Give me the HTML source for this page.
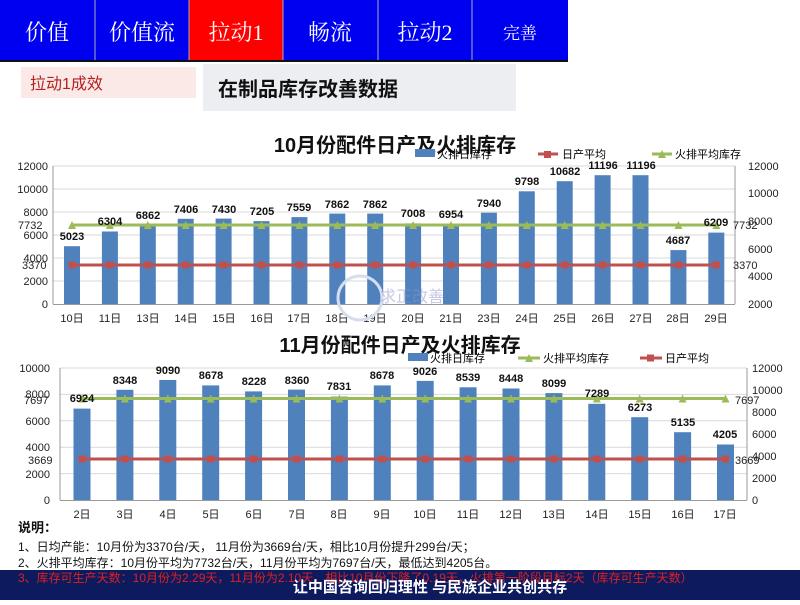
<!DOCTYPE html>
<html><head><meta charset="utf-8"><style>
body{margin:0;width:800px;height:600px;overflow:hidden;background:#fff;font-family:"Liberation Sans","Noto Sans CJK SC",sans-serif}
</style></head><body>
<svg width="800" height="600" viewBox="0 0 800 600" xmlns="http://www.w3.org/2000/svg" font-family="Liberation Sans, Noto Sans CJK SC, sans-serif">
<rect x="0" y="0" width="568" height="61" fill="#0000f0"/>
<rect x="189" y="0" width="94" height="61" fill="#ff0000"/>
<rect x="0" y="60" width="568" height="2" fill="#111"/>
<g stroke="#aab" stroke-width="1"><line x1="95" y1="0" x2="95" y2="60"/><line x1="189" y1="0" x2="189" y2="60"/><line x1="283" y1="0" x2="283" y2="60"/><line x1="378" y1="0" x2="378" y2="60"/><line x1="472" y1="0" x2="472" y2="60"/></g>
<g fill="#fff" font-family="Liberation Serif, Noto Serif CJK SC, serif" font-size="22" text-anchor="middle">
<text x="47" y="40">价值</text><text x="142" y="40">价值流</text><text x="236" y="40">拉动1</text><text x="330" y="40">畅流</text><text x="425" y="40">拉动2</text><text x="520" y="39" font-size="17">完善</text></g>
<rect x="21" y="67" width="175" height="31" fill="#fbe9e7"/>
<text x="30" y="89" font-size="16" fill="#b22222">拉动1成效</text>
<rect x="203" y="64" width="313" height="47" fill="#eceef1"/>
<text x="218" y="96" font-size="20" font-weight="bold" fill="#111">在制品库存改善数据</text>

<text x="395" y="152" font-size="20" font-weight="bold" text-anchor="middle" fill="#111">10月份配件日产及火排库存</text>
<rect x="415" y="149" width="20" height="8" fill="#4f81bd"/><text x="437" y="158" font-size="11">火排日库存</text>
<line x1="538" y1="154" x2="558" y2="154" stroke="#c0504d" stroke-width="3"/><rect x="544" y="151" width="7" height="7" fill="#c0504d"/><text x="562" y="158" font-size="11">日产平均</text>
<line x1="652" y1="154" x2="672" y2="154" stroke="#9bbb59" stroke-width="3"/><path d="M658,158 L662,150 L666,158Z" fill="#9bbb59"/><text x="675" y="158" font-size="11">火排平均库存</text>
<g stroke="#d9d9d9" stroke-width="1"><line x1="53" y1="281" x2="735" y2="281"/><line x1="53" y1="258" x2="735" y2="258"/><line x1="53" y1="235" x2="735" y2="235"/><line x1="53" y1="212" x2="735" y2="212"/><line x1="53" y1="189" x2="735" y2="189"/><line x1="53" y1="166" x2="735" y2="166"/></g>
<g stroke="#999"><line x1="53" y1="166" x2="53" y2="304"/><line x1="735" y1="166" x2="735" y2="304"/><line x1="53" y1="304.5" x2="735" y2="304.5"/></g>
<g font-size="11" fill="#222" text-anchor="end"><text x="48" y="308">0</text><text x="48" y="285">2000</text><text x="48" y="262">4000</text><text x="48" y="239">6000</text><text x="48" y="216">8000</text><text x="48" y="193">10000</text><text x="48" y="170">12000</text></g>
<g font-size="11" fill="#222"><text x="748" y="308">2000</text><text x="748" y="280">4000</text><text x="748" y="253">6000</text><text x="748" y="225">8000</text><text x="748" y="197">10000</text><text x="748" y="170">12000</text></g>
<g fill="#4f81bd">
<rect x="64" y="246.2" width="16" height="57.8"/><rect x="101.9" y="231.5" width="16" height="72.5"/><rect x="139.8" y="225.1" width="16" height="78.9"/><rect x="177.7" y="218.8" width="16" height="85.2"/><rect x="215.6" y="218.6" width="16" height="85.4"/><rect x="253.5" y="221.1" width="16" height="82.9"/><rect x="291.4" y="217.1" width="16" height="86.9"/><rect x="329.3" y="213.6" width="16" height="90.4"/><rect x="367.2" y="213.6" width="16" height="90.4"/><rect x="405.1" y="223.4" width="16" height="80.6"/><rect x="443" y="224" width="16" height="80"/><rect x="480.9" y="212.7" width="16" height="91.3"/><rect x="518.8" y="191.3" width="16" height="112.7"/><rect x="556.7" y="181.2" width="16" height="122.8"/><rect x="594.6" y="175.2" width="16" height="128.8"/><rect x="632.5" y="175.2" width="16" height="128.8"/><rect x="670.4" y="250.1" width="16" height="53.9"/><rect x="708.3" y="232.6" width="16" height="71.4"/></g>
<line x1="72" y1="265" x2="716" y2="265" stroke="#c0504d" stroke-width="3"/>
<g fill="#c0504d"><rect x="68.5" y="261.5" width="7" height="7"/><rect x="106.4" y="261.5" width="7" height="7"/><rect x="144.3" y="261.5" width="7" height="7"/><rect x="182.2" y="261.5" width="7" height="7"/><rect x="220.1" y="261.5" width="7" height="7"/><rect x="258" y="261.5" width="7" height="7"/><rect x="295.9" y="261.5" width="7" height="7"/><rect x="333.8" y="261.5" width="7" height="7"/><rect x="371.7" y="261.5" width="7" height="7"/><rect x="409.6" y="261.5" width="7" height="7"/><rect x="447.5" y="261.5" width="7" height="7"/><rect x="485.4" y="261.5" width="7" height="7"/><rect x="523.3" y="261.5" width="7" height="7"/><rect x="561.2" y="261.5" width="7" height="7"/><rect x="599.1" y="261.5" width="7" height="7"/><rect x="637" y="261.5" width="7" height="7"/><rect x="674.9" y="261.5" width="7" height="7"/><rect x="712.8" y="261.5" width="7" height="7"/></g>
<line x1="72" y1="225" x2="716" y2="225" stroke="#9bbb59" stroke-width="3"/>
<g fill="#9bbb59"><path d="M68,229h8l-4,-8z"/><path d="M105.9,229h8l-4,-8z"/><path d="M143.8,229h8l-4,-8z"/><path d="M181.7,229h8l-4,-8z"/><path d="M219.6,229h8l-4,-8z"/><path d="M257.5,229h8l-4,-8z"/><path d="M295.4,229h8l-4,-8z"/><path d="M333.3,229h8l-4,-8z"/><path d="M371.2,229h8l-4,-8z"/><path d="M409.1,229h8l-4,-8z"/><path d="M447,229h8l-4,-8z"/><path d="M484.9,229h8l-4,-8z"/><path d="M522.8,229h8l-4,-8z"/><path d="M560.7,229h8l-4,-8z"/><path d="M598.6,229h8l-4,-8z"/><path d="M636.5,229h8l-4,-8z"/><path d="M674.4,229h8l-4,-8z"/><path d="M712.3,229h8l-4,-8z"/></g>
<g font-size="11" font-weight="bold" fill="#111" text-anchor="middle">
<text x="72" y="240">5023</text><text x="110" y="225">6304</text><text x="148" y="219">6862</text><text x="186" y="213">7406</text><text x="224" y="213">7430</text><text x="262" y="215">7205</text><text x="299" y="211">7559</text><text x="337" y="208">7862</text><text x="375" y="208">7862</text><text x="413" y="217">7008</text><text x="451" y="218">6954</text><text x="489" y="207">7940</text><text x="527" y="185">9798</text><text x="565" y="175">10682</text><text x="603" y="169">11196</text><text x="641" y="169">11196</text><text x="678" y="244">4687</text><text x="716" y="226">6209</text></g>
<g font-size="11" fill="#222"><text x="18" y="229">7732</text><text x="22" y="269">3370</text><text x="733" y="229">7732</text><text x="733" y="269">3370</text></g>
<g font-size="11" fill="#222" text-anchor="middle"><text x="72" y="322">10日</text><text x="110" y="322">11日</text><text x="148" y="322">13日</text><text x="186" y="322">14日</text><text x="224" y="322">15日</text><text x="262" y="322">16日</text><text x="299" y="322">17日</text><text x="337" y="322">18日</text><text x="375" y="322">19日</text><text x="413" y="322">20日</text><text x="451" y="322">21日</text><text x="489" y="322">23日</text><text x="527" y="322">24日</text><text x="565" y="322">25日</text><text x="603" y="322">26日</text><text x="641" y="322">27日</text><text x="678" y="322">28日</text><text x="716" y="322">29日</text></g>
<circle cx="360" cy="298" r="22" fill="none" stroke="#d8dcef" stroke-width="3"/>
<text x="380" y="302" font-size="16" fill="#8a93cc" opacity="0.5">求正改善</text>

<text x="400" y="352" font-size="20" font-weight="bold" text-anchor="middle" fill="#111">11月份配件日产及火排库存</text>
<rect x="408" y="353" width="20" height="8" fill="#4f81bd"/><text x="430" y="362" font-size="11">火排日库存</text>
<line x1="518" y1="358" x2="540" y2="358" stroke="#9bbb59" stroke-width="3"/><path d="M525,362 L529,354 L533,362Z" fill="#9bbb59"/><text x="543" y="362" font-size="11">火排平均库存</text>
<line x1="640" y1="358" x2="662" y2="358" stroke="#c0504d" stroke-width="3"/><rect x="647" y="354.5" width="7" height="7" fill="#c0504d"/><text x="665" y="362" font-size="11">日产平均</text>
<g stroke="#d9d9d9"><line x1="60" y1="473.6" x2="747" y2="473.6"/><line x1="60" y1="447.2" x2="747" y2="447.2"/><line x1="60" y1="420.8" x2="747" y2="420.8"/><line x1="60" y1="394.4" x2="747" y2="394.4"/><line x1="60" y1="368" x2="747" y2="368"/></g>
<g stroke="#999"><line x1="60" y1="368" x2="60" y2="500"/><line x1="747" y1="368" x2="747" y2="500"/><line x1="60" y1="500.5" x2="747" y2="500.5"/></g>
<g font-size="11" fill="#222" text-anchor="end"><text x="50" y="504">0</text><text x="50" y="478">2000</text><text x="50" y="451">4000</text><text x="50" y="425">6000</text><text x="50" y="398">8000</text><text x="50" y="372">10000</text></g>
<g font-size="11" fill="#222"><text x="752" y="504">0</text><text x="752" y="482">2000</text><text x="752" y="460">4000</text><text x="752" y="438">6000</text><text x="752" y="416">8000</text><text x="752" y="394">10000</text><text x="752" y="372">12000</text></g>
<g fill="#4f81bd">
<rect x="73.5" y="408.6" width="17" height="91.4"/><rect x="116.4" y="389.8" width="17" height="110.2"/><rect x="159.3" y="380" width="17" height="120"/><rect x="202.2" y="385.4" width="17" height="114.6"/><rect x="245.1" y="391.4" width="17" height="108.6"/><rect x="288" y="389.6" width="17" height="110.4"/><rect x="330.9" y="396.6" width="17" height="103.4"/><rect x="373.8" y="385.4" width="17" height="114.6"/><rect x="416.7" y="380.9" width="17" height="119.1"/><rect x="459.6" y="387.3" width="17" height="112.7"/><rect x="502.5" y="388.5" width="17" height="111.5"/><rect x="545.4" y="393.1" width="17" height="106.9"/><rect x="588.3" y="403.8" width="17" height="96.2"/><rect x="631.2" y="417.2" width="17" height="82.8"/><rect x="674.1" y="432.2" width="17" height="67.8"/><rect x="717" y="444.5" width="17" height="55.5"/></g>
<line x1="82" y1="398.5" x2="725.5" y2="398.5" stroke="#9bbb59" stroke-width="3"/>
<g fill="#9bbb59"><path d="M78,402.5h8l-4,-8z"/><path d="M120.9,402.5h8l-4,-8z"/><path d="M163.8,402.5h8l-4,-8z"/><path d="M206.7,402.5h8l-4,-8z"/><path d="M249.6,402.5h8l-4,-8z"/><path d="M292.5,402.5h8l-4,-8z"/><path d="M335.4,402.5h8l-4,-8z"/><path d="M378.3,402.5h8l-4,-8z"/><path d="M421.2,402.5h8l-4,-8z"/><path d="M464.1,402.5h8l-4,-8z"/><path d="M507,402.5h8l-4,-8z"/><path d="M549.9,402.5h8l-4,-8z"/><path d="M592.8,402.5h8l-4,-8z"/><path d="M635.7,402.5h8l-4,-8z"/><path d="M678.6,402.5h8l-4,-8z"/><path d="M721.5,402.5h8l-4,-8z"/></g>
<line x1="82" y1="459" x2="725.5" y2="459" stroke="#c0504d" stroke-width="3"/>
<g fill="#c0504d"><rect x="78.5" y="455.5" width="7" height="7"/><rect x="121.4" y="455.5" width="7" height="7"/><rect x="164.3" y="455.5" width="7" height="7"/><rect x="207.2" y="455.5" width="7" height="7"/><rect x="250.1" y="455.5" width="7" height="7"/><rect x="293" y="455.5" width="7" height="7"/><rect x="335.9" y="455.5" width="7" height="7"/><rect x="378.8" y="455.5" width="7" height="7"/><rect x="421.7" y="455.5" width="7" height="7"/><rect x="464.6" y="455.5" width="7" height="7"/><rect x="507.5" y="455.5" width="7" height="7"/><rect x="550.4" y="455.5" width="7" height="7"/><rect x="593.3" y="455.5" width="7" height="7"/><rect x="636.2" y="455.5" width="7" height="7"/><rect x="679.1" y="455.5" width="7" height="7"/><rect x="722" y="455.5" width="7" height="7"/></g>
<g font-size="11" font-weight="bold" fill="#111" text-anchor="middle">
<text x="82" y="402">6924</text><text x="125" y="384">8348</text><text x="168" y="374">9090</text><text x="211" y="379">8678</text><text x="254" y="385">8228</text><text x="297" y="384">8360</text><text x="339" y="390">7831</text><text x="382" y="379">8678</text><text x="425" y="375">9026</text><text x="468" y="381">8539</text><text x="511" y="382">8448</text><text x="554" y="387">8099</text><text x="597" y="397">7289</text><text x="640" y="411">6273</text><text x="683" y="426">5135</text><text x="725" y="438">4205</text></g>
<g font-size="11" fill="#222"><text x="24" y="404">7697</text><text x="28" y="464">3669</text><text x="735" y="404">7697</text><text x="735" y="464">3669</text></g>
<g font-size="11" fill="#222" text-anchor="middle"><text x="82" y="518">2日</text><text x="125" y="518">3日</text><text x="168" y="518">4日</text><text x="211" y="518">5日</text><text x="254" y="518">6日</text><text x="297" y="518">7日</text><text x="339" y="518">8日</text><text x="382" y="518">9日</text><text x="425" y="518">10日</text><text x="468" y="518">11日</text><text x="511" y="518">12日</text><text x="554" y="518">13日</text><text x="597" y="518">14日</text><text x="640" y="518">15日</text><text x="683" y="518">16日</text><text x="725" y="518">17日</text></g>

<text x="18" y="532" font-size="13" font-weight="bold" fill="#111">说明：</text>
<text x="18" y="551" font-size="12" fill="#111">1、日均产能：10月份为3370台/天， 11月份为3669台/天，相比10月份提升299台/天；</text>
<text x="18" y="567" font-size="12" fill="#111">2、火排平均库存：10月份平均为7732台/天，11月份平均为7697台/天，最低达到4205台。</text>
<rect x="0" y="570" width="800" height="30" fill="#0d1a5e"/>
<text x="18" y="582" font-size="12" fill="#e02020">3、库存可生产天数：10月份为2.29天，11月份为2.10天，相比10月份下降了0.19天，火排第一阶段目标2天（库存可生产天数）</text>
<text x="430" y="592" font-size="15" font-weight="bold" fill="#fff" text-anchor="middle">让中国咨询回归理性  与民族企业共创共存</text>
</svg>
</body></html>
